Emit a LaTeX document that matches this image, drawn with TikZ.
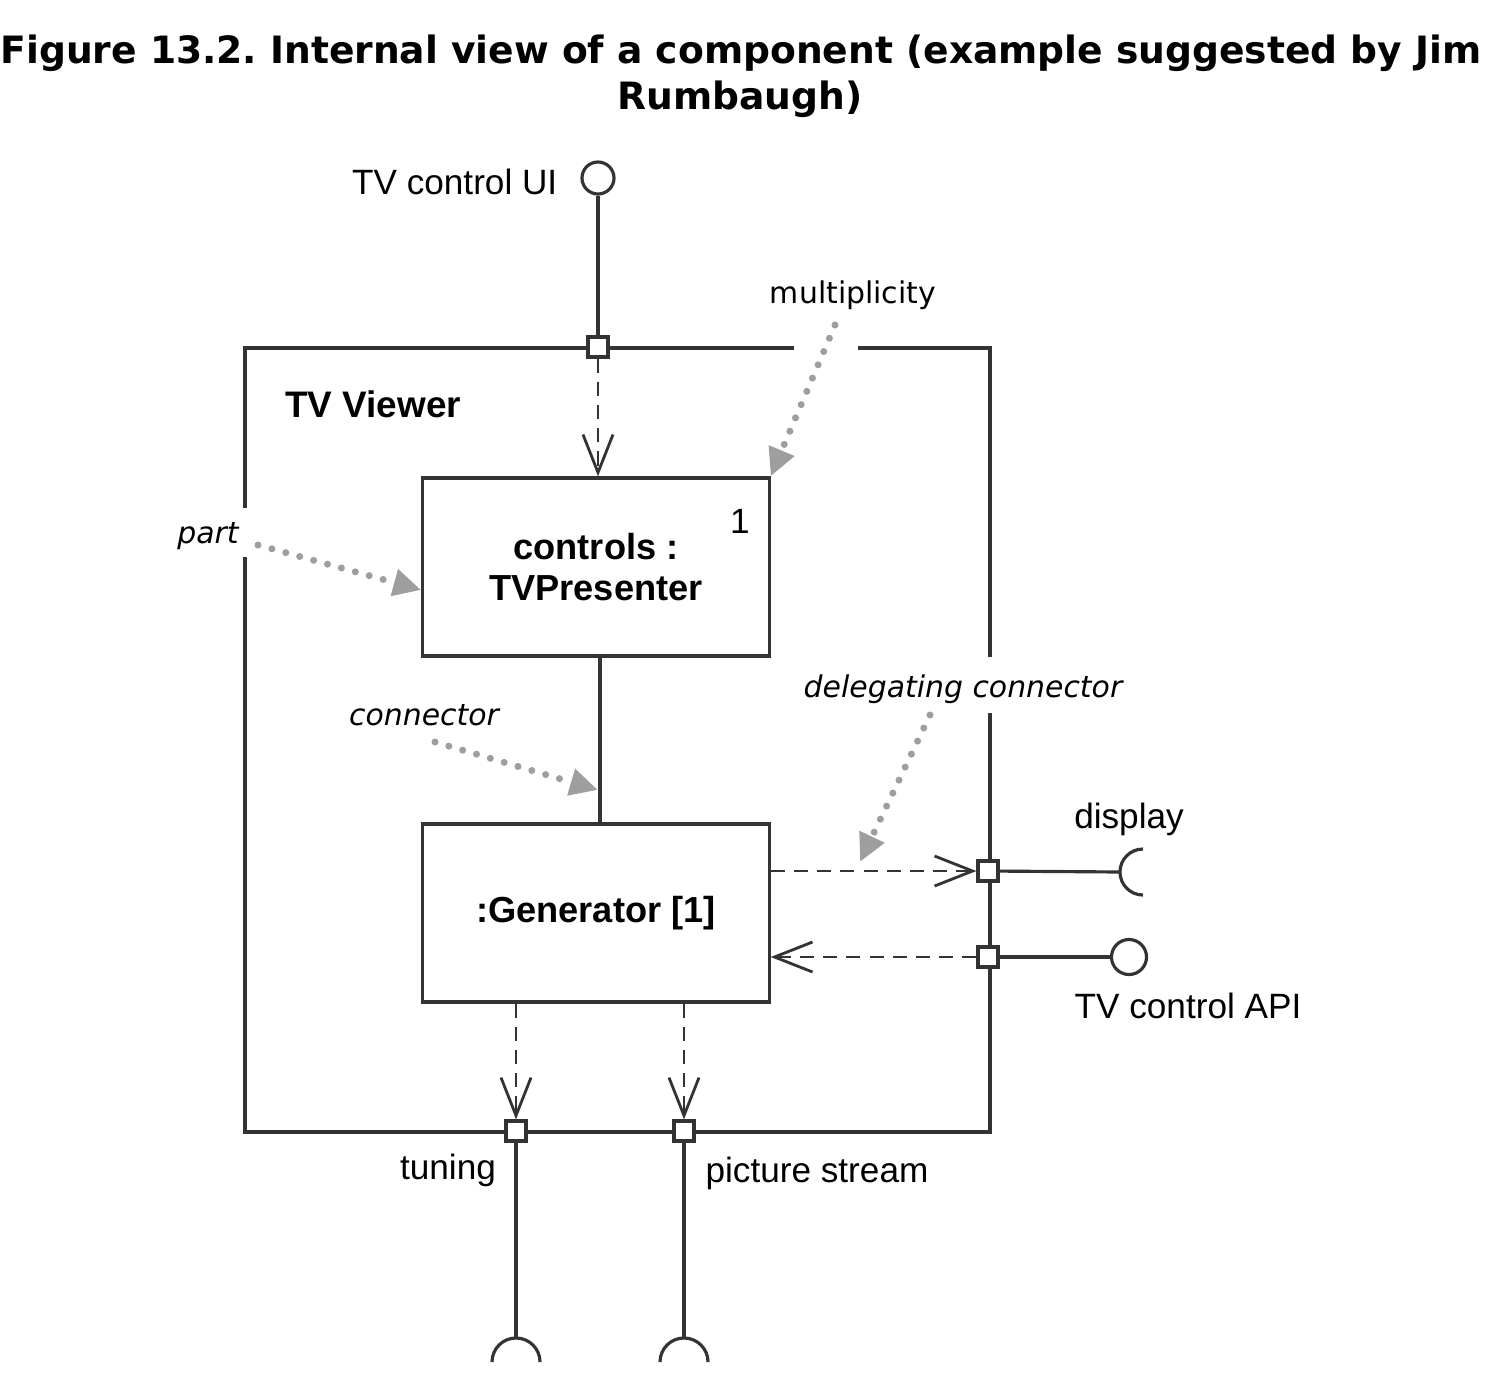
\documentclass[tikz,border=0pt]{standalone}
\usepackage{fontspec}
\setmainfont{Liberation Sans}
\newfontfamily\titlefont{DejaVu Sans}
\newfontfamily\notefont{DejaVu Sans}
\usetikzlibrary{arrows.meta,calc}
\frenchspacing

\definecolor{linegray}{gray}{0.2}
\definecolor{notegray}{gray}{0.62}

\tikzset{
	part/.style={draw=linegray, line width=0.9pt, minimum width=3.46cm, minimum height=1.78cm, align=center, inner sep=0pt, font=\fontsize{10.3}{11.7}\selectfont\bfseries},
	port/.style={draw=linegray, fill=white, line width=0.9pt, minimum size=0.2cm, inner sep=0pt},
	ball/.style={circle, draw=linegray, fill=white, line width=0.9pt, inner sep=0pt},
	dep/.style={draw=linegray, line width=0.8pt, dash pattern=on 4pt off 2.6pt, -{Straight Barb[length=0.38cm,width=0.3cm]}},
	note/.style={draw=notegray, line width=2pt, dash pattern=on 0pt off 4.1pt, line cap=round, -{Triangle[length=0.28cm,width=0.26cm,fill=notegray]}},
	lbl/.style={font=\fontsize{10}{12}\selectfont, inner sep=0pt, anchor=base},
	notelbl/.style={font=\notefont\fontsize{8.5}{10}\selectfont, inner sep=0pt, anchor=base},
	titlelbl/.style={font=\titlefont\fontsize{10.7}{13}\selectfont\bfseries, inner sep=0pt, anchor=base},
}

\begin{document}
\begin{tikzpicture}[x=0.01cm,y=-0.01cm]
	\useasboundingbox (0,0) rectangle (1493,1390);

	% title
	\node[titlelbl] (title1) at (741,63) {Figure 13.2. Internal view of a component (example suggested by Jim};
	\node[titlelbl] (title2) at (740,109) {Rumbaugh)};

	% component frame, broken where the notes pass
	\draw[linegray, line width=0.9pt] (794,348) -- (245,348) -- (245,508);
	\draw[linegray, line width=0.9pt] (245,557) -- (245,1132) -- (990,1132) -- (990,713);
	\draw[linegray, line width=0.9pt] (990,657) -- (990,348) -- (858,348);
	\node[font=\fontsize{10.5}{12}\selectfont\bfseries, inner sep=0pt, anchor=base] (viewer) at (373,417) {TV Viewer};

	% parts
	\node[part] (ctrl) at (596,567) {controls :\\TVPresenter};
	\node[part] (gen) at (596,913) {:Generator [1]};
	\node[lbl] (one) at (740,533) {1};
	\draw[linegray, line width=0.9pt] (ctrl.south -| 600,0) -- (gen.north -| 600,0);

	% ports
	\node[port] (pUI) at (598,347) {};
	\node[port] (pDisp) at (988,871) {};
	\node[port] (pAPI) at (988,957) {};
	\node[port] (pTune) at (516,1131) {};
	\node[port] (pPic) at (684,1131) {};

	% provided interfaces
	\node[ball, minimum size=0.32cm] (uiBall) at (598,178) {};
	\node[ball, minimum size=0.35cm] (apiBall) at (1129,957) {};
	\draw[linegray, line width=0.9pt] (uiBall) -- (pUI);
	\draw[linegray, line width=0.9pt] (pAPI) -- (apiBall);
	\node[lbl, anchor=base east] (uiLbl) at (558,194) {TV control UI};
	\node[lbl] (apiLbl) at (1188,1018) {TV control API};

	% required interfaces
	\coordinate (dispSock) at (1120,872);
	\coordinate (tuneSock) at (516,1338);
	\coordinate (picSock) at (684,1338);
	\draw[linegray, line width=0.9pt] (pDisp) -- (dispSock);
	\draw[linegray, line width=0.9pt] (1143,849) arc[start angle=90, end angle=270, radius=0.23cm];
	\draw[linegray, line width=0.9pt] (pTune) -- (tuneSock);
	\draw[linegray, line width=0.9pt] (492,1362) arc[start angle=180, end angle=0, radius=0.24cm];
	\draw[linegray, line width=0.9pt] (pPic) -- (picSock);
	\draw[linegray, line width=0.9pt] (660,1362) arc[start angle=180, end angle=0, radius=0.24cm];
	\node[lbl] (dispLbl) at (1129,828) {display};
	\node[lbl] (tuneLbl) at (448,1179) {tuning};
	\node[lbl] (picLbl) at (817,1182) {picture stream};

	% delegating connectors
	\draw[dep] (pUI.south) -- (ctrl.north -| pUI);
	\draw[dep] (gen.east |- pDisp) -- (pDisp.west);
	\draw[dep] (pAPI.west) -- (gen.east |- pAPI);
	\draw[dep] (gen.south -| pTune) -- (pTune.north);
	\draw[dep] (gen.south -| pPic) -- (pPic.north);

	% notes
	\node[notelbl] (multNote) at (853,303) {multiplicity};
	\node[notelbl, font=\notefont\fontsize{8.5}{10}\selectfont\itshape] (partNote) at (208,543) {part};
	\node[notelbl, font=\notefont\fontsize{8.5}{10}\selectfont\itshape] (connNote) at (424,725) {connector};
	\node[notelbl, font=\notefont\fontsize{8.5}{10}\selectfont\itshape] (delNote) at (963,697) {delegating connector};
	\draw[note] (835,325) -- (ctrl.north east);
	\draw[note] (258,545) -- (ctrl.west |- 0,590);
	\draw[note] (435,742) -- (598,790);
	\draw[note] (930,715) -- (860,862);
\end{tikzpicture}
\end{document}
